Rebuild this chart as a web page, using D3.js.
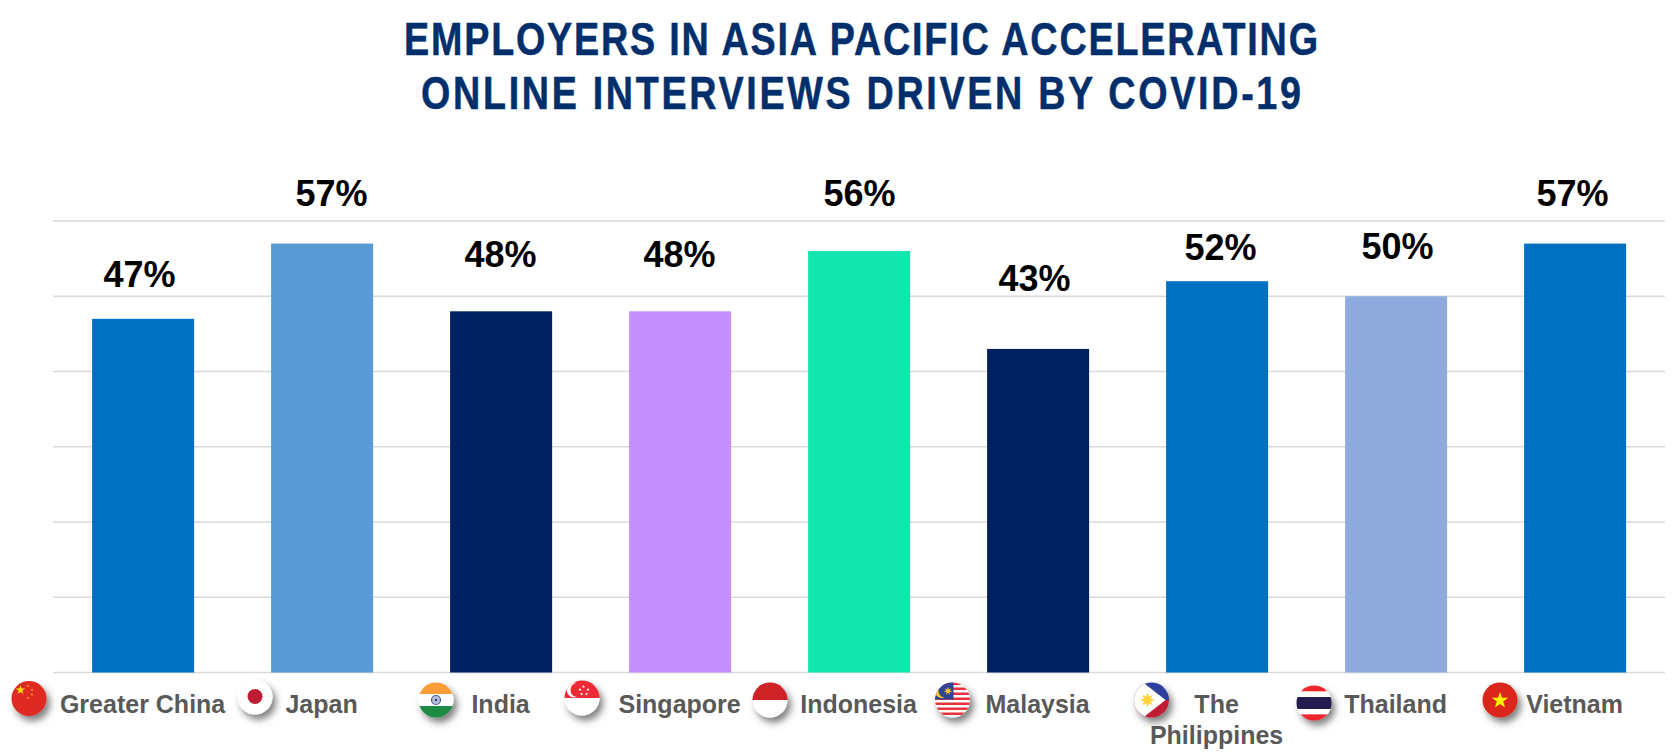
<!DOCTYPE html>
<html><head><meta charset="utf-8">
<script src="https://cdn.jsdelivr.net/npm/d3@7"></script>
<style>html,body{margin:0;padding:0;background:#fff;overflow:hidden}svg{display:block}</style>
</head><body><div id="chart"></div>
<script>
const titleLines = ["EMPLOYERS IN ASIA PACIFIC ACCELERATING", "ONLINE INTERVIEWS DRIVEN BY COVID-19"];
const categories = ["Greater China","Japan","India","Singapore","Indonesia","Malaysia","The Philippines","Thailand","Vietnam"];
const values = [47,57,48,48,56,43,52,50,57];
const barColors = ["#0070C0","#5B9BD5","#002060","#C58FFF","#10E6AE","#002060","#0070C0","#8FAADC","#0070C0"];
const gridTicks = [0,10,20,30,40,50,60];

// layout only: hand placement of the value labels and flags in the reference
const labelNudge = [[-3.5,-32],[9.5,-38],[-.5,-44],[-.5,-44],[.5,-45],[-3.5,-58],[3.5,-21],[1.5,-37],[-2.5,-38]];
const flagPos = [[29,698.5],[255,697],[436,700],[582,698],[770,700],[952.5,700],[1151.5,700],[1314,703],[1500,700]];

const W=1679,H=756;
const svg=d3.select("#chart").append("svg").attr("width",W).attr("height",H);
const defs=svg.append("defs");
const f=defs.append("filter").attr("id","sh").attr("x","-40%").attr("y","-40%").attr("width","190%").attr("height","200%");
f.append("feDropShadow").attr("dx",3.5).attr("dy",5).attr("stdDeviation",3.5).attr("flood-color","#000").attr("flood-opacity",.5);
defs.append("clipPath").attr("id","disc").append("circle").attr("r",17.5);

const x=d3.scaleBand().domain(categories).range([53.6,1664.6]).paddingInner(.43).paddingOuter(.215);
const y=d3.scaleLinear().domain([0,60]).range([672.5,221]);

const titleSqueeze=.82;
svg.selectAll("text.title").data(titleLines).join("text").attr("class","title")
  .attr("transform",(d,i)=>`translate(861,${[55,109][i]}) scale(${titleSqueeze},1)`).attr("text-anchor","middle")
  .attr("textLength",(d,i)=>[914,880][i]/titleSqueeze).attr("lengthAdjust","spacing")
  .attr("font-family","'Liberation Sans',sans-serif").attr("font-weight",700)
  .attr("font-size",46).attr("fill","#002F6C").attr("stroke","#002F6C").attr("stroke-width",.5).text(d=>d);

svg.selectAll("line.grid").data(gridTicks).join("line").attr("class","grid")
  .attr("x1",53).attr("x2",1665).attr("y1",d=>y(d)).attr("y2",d=>y(d))
  .attr("stroke","#D9D9D9").attr("stroke-width",1.5);

svg.selectAll("rect.bar").data(values).join("rect").attr("class","bar")
  .attr("x",(d,i)=>x(categories[i])).attr("width",x.bandwidth())
  .attr("y",d=>y(d)).attr("height",d=>y(0)-y(d)).attr("fill",(d,i)=>barColors[i]);

svg.selectAll("text.val").data(values).join("text").attr("class","val")
  .attr("x",(d,i)=>x(categories[i])+x.bandwidth()/2+labelNudge[i][0])
  .attr("y",(d,i)=>y(d)+labelNudge[i][1]).attr("text-anchor","middle")
  .attr("font-family","'Liberation Sans',Arial,sans-serif").attr("font-weight",700)
  .attr("font-size",36).attr("fill","#000").text(d=>d+"%");

const cat=svg.selectAll("text.cat").data(categories).join("text").attr("class","cat")
  .attr("text-anchor","middle").attr("font-family","'Liberation Sans',Arial,sans-serif")
  .attr("font-weight",700).attr("font-size",25).attr("fill","#595959");
cat.each(function(d){
  const t=d3.select(this), cx=x(d)+x.bandwidth()/2-.5;
  const lines=d==="The Philippines"?["The","Philippines"]:[d];
  lines.forEach((l,k)=>t.append("tspan").attr("x",cx).attr("y",712.5+k*31).text(l));
});

function star(cx,cy,r,rot=0,n=5,inner=.4){
  const p=[];for(let i=0;i<2*n;i++){const a=-Math.PI/2+rot+i*Math.PI/n,q=i%2?r*inner:r;p.push([cx+q*Math.cos(a),cy+q*Math.sin(a)]);}
  return "M"+p.map(a=>a.join(",")).join("L")+"Z";
}
const R=18;
function band(g,y0,y1,c){g.append("rect").attr("x",-R).attr("width",2*R).attr("y",y0).attr("height",y1-y0).attr("fill",c);}
const painters={
 "Greater China":g=>{band(g,-R,R,"#DE2B22");
   g.append("path").attr("d",star(-8.5,-8.5,5)).attr("fill","#FFDE00");
   [[-1,-12.5],[3,-8.5],[3,-4],[-1,-0.5]].forEach(s=>g.append("path").attr("d",star(s[0],s[1],1.5)).attr("fill","#F5B81E"));},
 "Japan":g=>{band(g,-R,R,"#FFFFFF");g.append("circle").attr("r",7.5).attr("cy",-.5).attr("fill","#BE1E33");},
 "India":g=>{band(g,-R,-6,"#F99D38");band(g,-6,6,"#FFFFFF");band(g,6,R,"#1B8A42");
   g.append("circle").attr("r",4.5).attr("fill","#B9BFD6").attr("stroke","#4A5C96").attr("stroke-width",1.2);
   g.append("circle").attr("r",1.2).attr("fill","#2E3F85");},
 "Singapore":g=>{band(g,-R,0,"#EE2A35");band(g,0,R,"#FFFFFF");
   g.append("path").attr("fill","#fff")
    .attr("d","M-5,-15A7.5,7.5 0 1 0 -5,-1 A6.5,7 0 0 1 -5,-15Z");
   [[0,-12],[4.5,-9],[3,-4.5],[-2,-4.5],[-3.5,-9]].forEach(s=>g.append("path").attr("d",star(s[0]+1.5,s[1]+.5,1.7)).attr("fill","#fff"));},
 "Indonesia":g=>{band(g,-R,0,"#CE2028");band(g,0,R,"#FFFFFF");},
 "Malaysia":g=>{band(g,-R,R,"#FFFFFF");
   d3.range(7).forEach(i=>band(g,-17.5+i*5,-15+i*5,"#E8303A"));
   g.append("rect").attr("x",-R).attr("y",-R).attr("width",R+1).attr("height",R-.5).attr("fill","#2E4593");
   g.append("path").attr("d","M-8,-15.5A7,7 0 1 0 -8,-2.5 A6,6.5 0 1 1 -8,-15.5Z").attr("fill","#FFC72C");
   g.append("path").attr("d",star(-4.5,-9,4.5,0,7)).attr("fill","#FFC72C");},
 "The Philippines":g=>{band(g,-R,0,"#2E3F9E");band(g,0,R,"#C01F35");
   g.append("path").attr("d","M-18,-18L-18,18L-9,18L14,0L-9,-18Z").attr("fill","#FFFFFF");
   g.append("path").attr("d",star(-4,0,7.5,0,8,.5)).attr("fill","#FFD23F");
   g.append("circle").attr("cx",-4).attr("r",3.2).attr("fill","#FFD23F");},
 "Thailand":g=>{band(g,-R,-11.5,"#F0252B");band(g,-11.5,-6,"#FFFFFF");band(g,-6,6,"#241D4F");band(g,6,11.5,"#FFFFFF");band(g,11.5,R,"#F0252B");},
 "Vietnam":g=>{band(g,-R,R,"#DB281C");g.append("path").attr("d",star(0,.5,8.5)).attr("fill","#FFF200");}
};
categories.forEach((c,i)=>{
  const o=svg.append("g").attr("transform",`translate(${flagPos[i][0]},${flagPos[i][1]})`).attr("filter","url(#sh)");
  const g=o.append("g").attr("clip-path","url(#disc)");
  painters[c](g);
});
</script></body></html>
